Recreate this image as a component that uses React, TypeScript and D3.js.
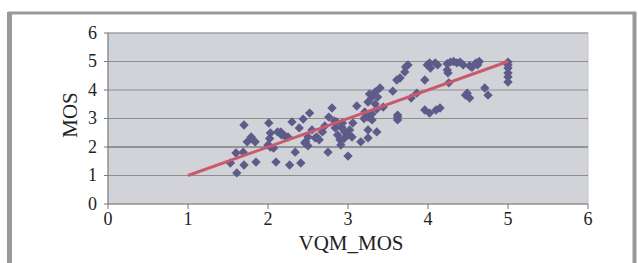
import * as d3 from "d3";

// VQM_MOS (x) vs MOS (y)
const vqm = [
  1.53, 1.61, 1.6, 1.69, 1.7, 1.7, 1.74, 1.79, 1.84, 1.85, 1.8,
  2.01, 2.03, 2.0, 2.03, 2.07, 2.1, 2.02, 2.16, 2.21, 2.25, 2.3, 2.27, 2.34, 2.39, 2.41, 2.44, 2.47, 2.5, 2.52, 2.55, 2.59, 2.12, 2.17, 2.46, 2.5,
  2.61, 2.64, 2.68, 2.71, 2.76, 2.8, 2.83, 2.75, 2.84, 2.87, 2.92, 2.93, 2.92, 2.96, 3.0, 2.9, 3.05, 2.91, 3.0, 2.86, 3.06, 2.95, 3.02,
  3.11, 3.21, 3.25, 3.3, 3.25, 3.36, 3.25, 3.16, 3.25, 3.3, 3.37, 3.27, 3.34, 3.4, 3.44, 3.34, 3.36, 3.3, 3.2,
  3.56, 3.61, 3.65, 3.71, 3.72, 3.75, 3.62, 3.62, 3.62, 3.79, 3.86, 3.96, 3.96, 4.02, 4.1, 4.15,
  3.99, 4.02, 4.09, 4.12, 4.03, 4.24, 4.28, 4.32, 4.36, 4.4, 4.44, 4.24, 4.25, 4.26, 4.52, 4.55, 4.6, 4.64, 4.62, 4.49, 4.52, 4.47, 4.71, 4.75,
  5.0, 5.0, 5.0, 5.0, 5.0, 5.0,
];
const mos = [
  1.44, 1.09, 1.79, 1.82, 2.77, 1.37, 2.18, 2.35, 2.18, 1.47, 2.28,
  2.84, 2.49, 2.07, 2.0, 1.96, 1.47, 2.3, 2.53, 2.39, 2.35, 2.88, 1.37, 1.82, 2.67, 1.44, 2.98, 2.18, 2.04, 3.19, 2.6, 2.32, 2.53, 2.42, 2.14, 2.35,
  2.35, 2.25, 2.53, 2.74, 3.05, 3.37, 2.91, 1.82, 2.67, 2.42, 2.67, 2.84, 2.7, 2.53, 2.42, 2.25, 2.35, 2.07, 1.68, 2.88, 2.84, 2.3, 2.6,
  3.44, 3.23, 3.05, 2.95, 2.6, 2.53, 2.32, 2.18, 3.58, 3.75, 3.75, 3.86, 3.93, 4.07, 3.4, 3.51, 3.33, 3.16, 3.0,
  3.96, 4.35, 4.42, 4.63, 4.81, 4.88, 3.05, 2.95, 3.12, 3.72, 3.89, 4.35, 3.3, 3.19, 3.3, 3.37,
  4.88, 4.95, 4.95, 4.88, 4.77, 4.92, 4.98, 5.0, 4.95, 4.98, 4.88, 4.7, 4.6, 4.25, 4.85, 4.8, 4.95, 5.0, 4.88, 3.89, 3.72, 3.82, 4.07, 3.82,
  4.98, 4.88, 4.77, 4.6, 4.46, 4.28,
];
const trendX = [1, 5];
const trendY = [1, 5];
const xTicks = [0, 1, 2, 3, 4, 5, 6];
const yTicks = [0, 1, 2, 3, 4, 5, 6];

const W = 638;
const H = 263;
const font = "'Liberation Serif', 'DejaVu Serif', 'Times New Roman', serif";

export default function App() {
  const x = d3.scaleLinear().domain([0, 6]).range([108, 588]);
  const y = d3.scaleLinear().domain([0, 6]).range([204, 33]);
  const diamond = d3.symbol(d3.symbolSquare, 44)();
  const trend = d3
    .line<number>()
    .x((_, i) => x(trendX[i]))
    .y((d) => y(d));

  return (
    <svg
      width={W}
      height={H}
      style={{
        position: "absolute",
        left: 0,
        top: 0,
        background: "#fff",
        fontFamily: font,
      }}
    >
      {/* frame */}
      <line x1={8} x2={636} y1={13} y2={13} stroke="#999" strokeWidth={3} />
      <line x1={9.5} x2={9.5} y1={12} y2={H} stroke="#999" strokeWidth={5} />
      <line x1={634.5} x2={634.5} y1={12} y2={H} stroke="#999" strokeWidth={4} />

      {/* plot area */}
      <rect
        x={x(0)}
        y={y(6)}
        width={x(6) - x(0)}
        height={y(0) - y(6)}
        fill="#d1d3d9"
        stroke="#c4c6cc"
      />
      {yTicks.slice(1).map((t) => (
        <line
          key={t}
          x1={x(0)}
          x2={x(6)}
          y1={y(t)}
          y2={y(t)}
          stroke={t === 2 ? "#555" : "#8e8e8e"}
          strokeWidth={1}
        />
      ))}

      {/* axes */}
      <line x1={x(0)} x2={x(0)} y1={y(6)} y2={y(0)} stroke="#777" />
      <line x1={x(0)} x2={x(6)} y1={y(0)} y2={y(0)} stroke="#777" />
      {yTicks.map((t) => (
        <g key={t}>
          <line x1={x(0) - 4} x2={x(0)} y1={y(t)} y2={y(t)} stroke="#777" />
          <text
            x={97}
            y={y(t)}
            dy="0.33em"
            textAnchor="end"
            fontSize={18}
            fill="#222"
          >
            {t}
          </text>
        </g>
      ))}
      {xTicks.map((t) => (
        <g key={t}>
          <line x1={x(t)} x2={x(t)} y1={y(0)} y2={y(0) + 5} stroke="#777" />
          <text x={x(t)} y={225} textAnchor="middle" fontSize={18} fill="#222">
            {t}
          </text>
        </g>
      ))}

      {/* points */}
      {vqm.map((v, i) => (
        <path
          key={i}
          d={diamond!}
          transform={`translate(${x(v)},${y(mos[i])}) rotate(45)`}
          fill="#5e5b8a"
        />
      ))}

      {/* trendline */}
      <path
        d={trend(trendY)!}
        fill="none"
        stroke="#c95a6c"
        strokeWidth={3}
      />

      {/* titles */}
      <text x={351} y={250} textAnchor="middle" fontSize={21} fill="#222">
        VQM_MOS
      </text>
      <text
        transform={`translate(77,115) rotate(-90)`}
        textAnchor="middle"
        fontSize={21}
        fill="#222"
      >
        MOS
      </text>
    </svg>
  );
}
